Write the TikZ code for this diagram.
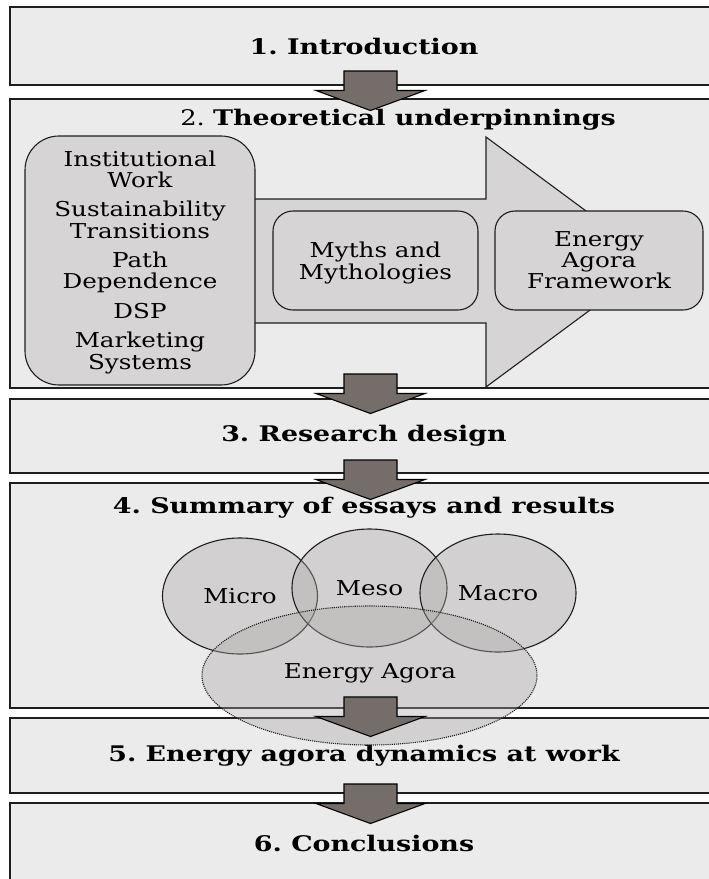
\documentclass[tikz,border=0pt]{standalone}
\usepackage{fontspec}
\setmainfont[FakeStretch=1.2, BoldFeatures={FakeStretch=1.25}]{DejaVu Serif}
\usetikzlibrary{shapes.geometric}

\definecolor{panelgray}{HTML}{EBEBEB}
\definecolor{softgray}{HTML}{D6D4D4}
\definecolor{veilgray}{HTML}{ABA6A6}
\definecolor{arrowgray}{HTML}{756D6A}
\definecolor{ink}{HTML}{1E1E1E}

\tikzset{
  chapter/.style={draw=ink, fill=panelgray, line width=1.3pt, minimum width=708pt,
    inner sep=0pt, font=\fontsize{21.5}{24}\selectfont\bfseries},
  heading/.style={font=\fontsize{21.5}{24}\selectfont},
  theory/.style={draw=ink, fill=softgray, line width=1.1pt, inner sep=0pt,
    align=center, font=\fontsize{20.5}{21}\selectfont},
  words/.style={align=center, inner sep=0pt, font=\fontsize{20.5}{21.5}\selectfont},
  level/.style={ellipse, draw=ink, line width=1.1pt, fill=veilgray, fill opacity=0.38,
    text opacity=1, inner sep=0pt, font=\fontsize{20.5}{21}\selectfont},
  bigarrow/.style={draw=ink, fill=softgray, line width=1.1pt},
  blockarrow/.style={draw=black, fill=arrowgray, line width=1.1pt}
}

\begin{document}
\frenchspacing
\begin{tikzpicture}[x=1pt, y=-1pt]
  \useasboundingbox (0,0) rectangle (709,879);
  \clip (0,0) rectangle (709,879);

  % chapters
  \node[chapter, minimum height=78pt]  (intro)    at (364,46)    {1. Introduction};
  \node[chapter, minimum height=289pt] (theory)   at (364,243.5) {};
  \node[chapter, minimum height=74pt]  (design)   at (364,436)   {3. Research design};
  \node[chapter, minimum height=225pt] (summary)  at (364,595.5) {};
  \node[chapter, minimum height=75pt]  (dynamics) at (364,755.5) {5. Energy agora dynamics at work};
  \node[chapter, minimum height=80pt]  (concl)    at (364,843)   {6. Conclusions};

  \node[heading] (theorytitle)  at (398,120) {2. \textbf{Theoretical underpinnings}};
  \node[heading] (summarytitle) at (364,508) {\textbf{4. Summary of essays and results}};

  % chapter 2
  \draw[bigarrow] (240,199) -- (486,199) -- (486,137) -- (655,262)
    -- (486,387) -- (486,323) -- (240,323) -- cycle;

  \node[theory, rounded corners=34pt, minimum width=230pt, minimum height=249pt] (roots) at (140,260.5) {};
  \node[words] (rootslist) at (140,262)
    {Institutional\\Work\\[7.5pt]Sustainability\\Transitions\\[7.5pt]Path\\Dependence\\[8pt]DSP\\[8pt]Marketing\\Systems};
  \node[theory, rounded corners=20pt, minimum width=205pt, minimum height=99pt] (myths) at (375.5,260.5) {};
  \node[words] (mythslist) at (375.5,263) {Myths and\\Mythologies};
  \node[theory, rounded corners=20pt, minimum width=208pt, minimum height=99pt] (agoraframe) at (599,260.5)
    {Energy\\Agora\\Framework};

  % chapter 4
  \node[level, minimum width=155pt, minimum height=116pt] (micro) at (240,596)   {Micro};
  \node[level, minimum width=155pt, minimum height=118pt] (meso)  at (369.5,588) {Meso};
  \node[level, minimum width=156pt, minimum height=118pt] (macro) at (498,593)   {Macro};
  \node[level, densely dotted, minimum width=335pt, minimum height=139pt] (agora) at (369.5,675.5) {};
  \node[words] (agoralabel) at (370,673) {Energy Agora};

  % flow arrows
  \foreach \t in {71,374,460,697,784}
    \draw[blockarrow] (344,\t) -- (397,\t) -- (397,\t+19.5) -- (425,\t+19.5)
      -- (370.5,\t+39.5) -- (316,\t+19.5) -- (344,\t+19.5) -- cycle;

\end{tikzpicture}
\end{document}
